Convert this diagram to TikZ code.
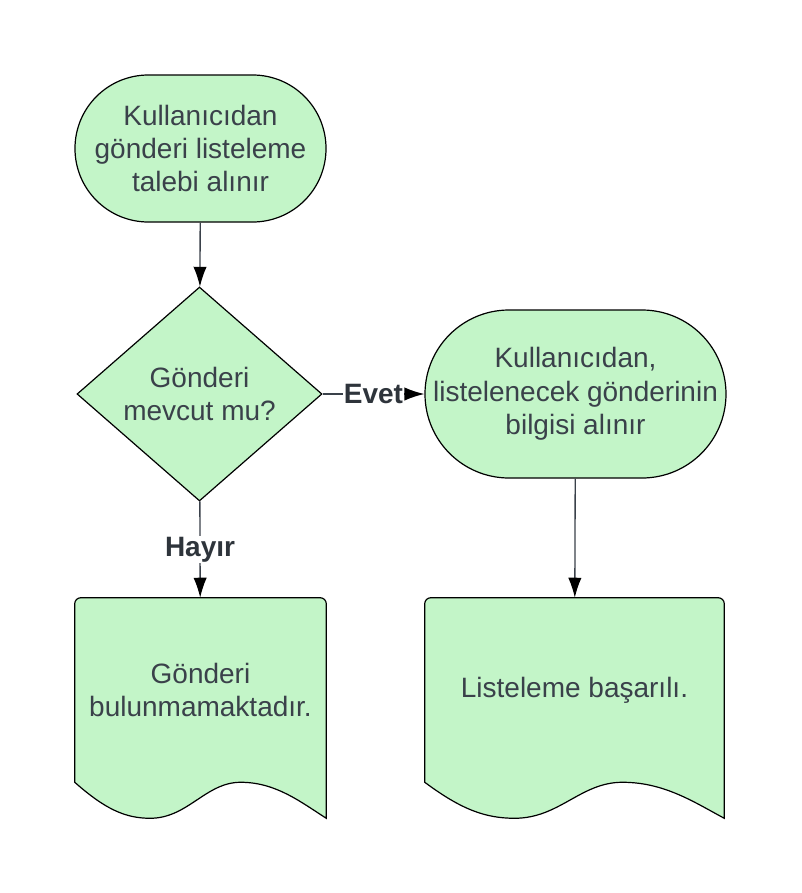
\documentclass[tikz,border=0pt]{standalone}
\usepackage{fontspec}
\setmainfont{Liberation Sans}
\usetikzlibrary{shapes.geometric,arrows.meta,backgrounds,calc}

\definecolor{boxgreen}{HTML}{C3F5C8}
\definecolor{textgray}{HTML}{3A414A}

\tikzset{
    flowtext/.style={text=textgray, font=\fontsize{21}{25}\selectfont, align=center},
    terminal/.style={rectangle, draw=black, fill=boxgreen, line width=0.9pt, inner sep=0pt, flowtext},
    decision/.style={diamond, draw=black, fill=boxgreen, line width=0.9pt, inner sep=0pt, flowtext},
    docbox/.style={rectangle, inner sep=0pt, flowtext},
    flow/.style={draw=textgray, line width=1pt, -{Latex[length=15pt,width=10pt,color=black]}},
    answer/.style={fill=white, text=textgray!80!black, inner sep=1pt, font=\fontsize{21}{25}\selectfont\bfseries}
}

% outline of a document box: small round top corners, wavy bottom
\newcommand{\docoutline}[1]{%
    \path[draw=black, fill=boxgreen, line width=0.9pt]
        let \p1=(#1.south west), \p2=(#1.north east), \n1={\x2-\x1} in
        (\p1) -- (\x1,\y2-4.5pt) arc[start angle=180, end angle=90, radius=4.5pt]
        -- (\x2-4.5pt,\y2) arc[start angle=90, end angle=0, radius=4.5pt]
        -- (\x2,\y1-27pt)
        .. controls ({\x1+0.9*\n1},\y1-15pt) and ({\x1+0.8*\n1},\y1) .. ({\x1+0.66*\n1},\y1)
        .. controls ({\x1+0.52*\n1},\y1) and ({\x1+0.45*\n1},\y1-27pt) .. ({\x1+0.3*\n1},\y1-27pt)
        .. controls ({\x1+0.2*\n1},\y1-27pt) and ({\x1+0.12*\n1},\y1-20pt) .. (\p1)
        -- cycle;
}

\begin{document}
\begin{tikzpicture}[x=0.75pt, y=-0.75pt]

    \useasboundingbox (0,0) rectangle (802,893);

        \begin{scope}
            \node[terminal, minimum width=188.25pt, minimum height=110.25pt, rounded corners=55pt] (request) at (200.5,148.5) {Kullanıcıdan\\gönderi listeleme\\talebi alınır};
            \node[decision, minimum width=183.75pt, minimum height=160.5pt] (check) at (199.5,394) {Gönderi\\mevcut mu?};
            \node[terminal, minimum width=225.75pt, minimum height=126pt, rounded corners=63pt] (details) at (575.5,394) {Kullanıcıdan,\\listelenecek gönderinin\\bilgisi alınır};
            \node[docbox, minimum width=188.25pt, minimum height=138pt] (notfound) at (200.5,690) {Gönderi\\bulunmamaktadır.};
            \node[docbox, minimum width=224.25pt, minimum height=138pt] (success) at (574.5,690) {Listeleme başarılı.};
        \end{scope}

        \begin{scope}[on background layer]
            \docoutline{notfound}
            \docoutline{success}
        \end{scope}

        \begin{scope}[every node/.style={answer}, every edge/.style={flow}]
            \path (request) edge (check);
            \path (check) edge node {Evet} (details);
            \path (check) edge node {Hayır} (notfound);
            \path (details) edge (success);
        \end{scope}

    \end{tikzpicture}
\end{document}
